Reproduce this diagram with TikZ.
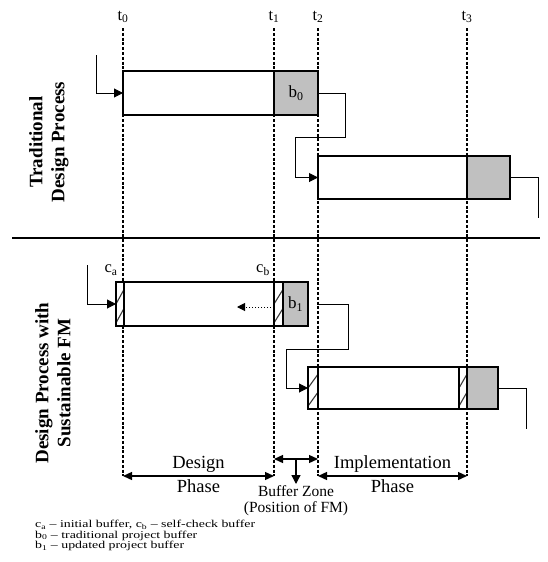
\documentclass[tikz,border=0pt]{standalone}
\usepackage{fontspec}
\setmainfont{Liberation Serif}
\newfontfamily\keyfont[FakeStretch=1.32,Ligatures=TeX]{Liberation Serif}
\usetikzlibrary{arrows.meta,positioning,calc}
\definecolor{Ink}{HTML}{000000}
\definecolor{BufferGray}{HTML}{C0C0C0}
\definecolor{HatchGray}{HTML}{3A3A3A}
\tikzset{taskbox/.style={rectangle,draw=Ink,line width=1.4pt,fill=white,minimum height=44pt,inner sep=0pt,outer sep=0pt},bufferbox/.style={taskbox,fill=BufferGray,font=\fontsize{17}{17}\selectfont},hatchbox/.style={taskbox,path picture={\draw[HatchGray,line width=1.1pt] ($(path picture bounding box.south west)!0.07!(path picture bounding box.north west)$)--($(path picture bounding box.south east)!0.4!(path picture bounding box.north east)$);\draw[HatchGray,line width=1.1pt] ($(path picture bounding box.south west)!0.5!(path picture bounding box.north west)$)--($(path picture bounding box.south east)!0.83!(path picture bounding box.north east)$);}},timeline/.style={draw=Ink,line width=1.8pt,dash pattern=on 3pt off 1.8pt},link/.style={draw=Ink,line width=1pt},flow/.style={link,-{Triangle[length=9pt,width=9pt]}},backcheck/.style={draw=Ink,line width=1pt,dotted,-{Triangle[length=8pt,width=8pt]}},span/.style={draw=Ink,line width=1.3pt,{Triangle[length=9pt,width=8pt]}-{Triangle[length=9pt,width=8pt]}},divider/.style={draw=Ink,line width=2.2pt},timelabel/.style={font=\fontsize{16.5}{16.5}\selectfont,inner sep=1pt},rowlabel/.style={rotate=90,align=center,font=\bfseries\fontsize{19}{22}\selectfont},phase/.style={font=\fontsize{18.5}{18.5}\selectfont},zone/.style={align=center,inner sep=1pt,font=\fontsize{15.5}{16}\selectfont},keytext/.style={align=left,inner sep=0pt,font=\keyfont\fontsize{10.5}{10.6}\selectfont}}
\begin{document}
\begin{tikzpicture}[x=1pt,y=-1pt]
\useasboundingbox (0,0) rectangle (547,562);
\foreach \n/\x in {0/123,1/274,2/318,3/467}{\coordinate (S\n) at (\x,28);\coordinate (E\n) at (\x,476);\node[timelabel,above=4pt of S\n] (L\n) {t\textsubscript{\n}};\draw[timeline] (S\n)--(E\n);}
\node[rowlabel] (TradLbl) at (49,142) {Traditional\\Design Process};
\node[rowlabel] (SustLbl) at (53,383) {Design Process with\\Sustainable FM};
\draw[divider] (12,238)--(540,238);
\node[taskbox,minimum width=151pt] (D1) at (198.5,93) {};\node[bufferbox,minimum width=44pt] (B0) at (296,93) {b\textsubscript{0}};
\node[taskbox,minimum width=149pt,minimum height=43pt] (I2) at (392.5,177.5) {};\node[bufferbox,minimum width=43pt,minimum height=43pt] (G2) at (488.5,177.5) {};
\node[hatchbox,minimum width=8pt] (HA) at (120,304) {};\node[taskbox,minimum width=150pt] (D3) at (199,304) {};\node[hatchbox,minimum width=9pt] (HB) at (278.5,304) {};\node[bufferbox,minimum width=25pt] (B1) at (295.5,304) {b\textsubscript{1}};
\node[hatchbox,minimum width=10pt,minimum height=42pt] (HC) at (313,388) {};\node[taskbox,minimum width=141pt,minimum height=42pt] (I4) at (388.5,388) {};\node[hatchbox,minimum width=8pt,minimum height=42pt] (HD) at (463,388) {};\node[bufferbox,minimum width=31pt,minimum height=42pt] (G4) at (482.5,388) {};
\node[timelabel] (CA) at (111,270) {c\textsubscript{a}};\node[timelabel] (CB) at (263,270) {c\textsubscript{b}};
\coordinate (In1) at (96,55);\coordinate (Out2) at (538,218);\coordinate (In3) at (87,265);\coordinate (Chk) at (237,307);\coordinate (Out4) at (526,429);
\draw[flow] (In1) |- (D1.west);
\draw[flow] (B0.east)--++(27,0)--++(0,44) -| ($(I2.west)+(-23,0)$)--(I2.west);
\draw[link] (G2.east) -| (Out2);
\draw[flow] (In3) |- (HA.west);
\draw[backcheck] (HB.west |- Chk)--(Chk);
\draw[flow] (B1.east -| S2)--++(30,0)--++(0,45) -| ($(HC.west)+(-22,0)$)--(HC.west);
\draw[link] (G4.east) -| (Out4);
\draw[span] (E0)--node[phase,above] (DesTop) {Design} node[phase,below] (DesBot) {Phase} (E1);
\draw[span] (E2)--node[phase,above] (ImpTop) {Implementation} node[phase,below] (ImpBot) {Phase} (E3);
\coordinate (Z1) at (274,459);\coordinate (Z2) at (318,459);
\node[zone,anchor=north] (BZ) at (296,484) {Buffer Zone\\(Position of FM)};
\draw[span] (Z1)--coordinate[pos=0.5] (ZM) (Z2);
\draw[flow,line width=1.3pt] (ZM)--(BZ.north);
\node[keytext,anchor=north west] (Key) at (35,520) {c\textsubscript{a} -- initial buffer, c\textsubscript{b} -- self-check buffer\\b\textsubscript{0} -- traditional project buffer\\b\textsubscript{1} -- updated project buffer};
\end{tikzpicture}
\end{document}
